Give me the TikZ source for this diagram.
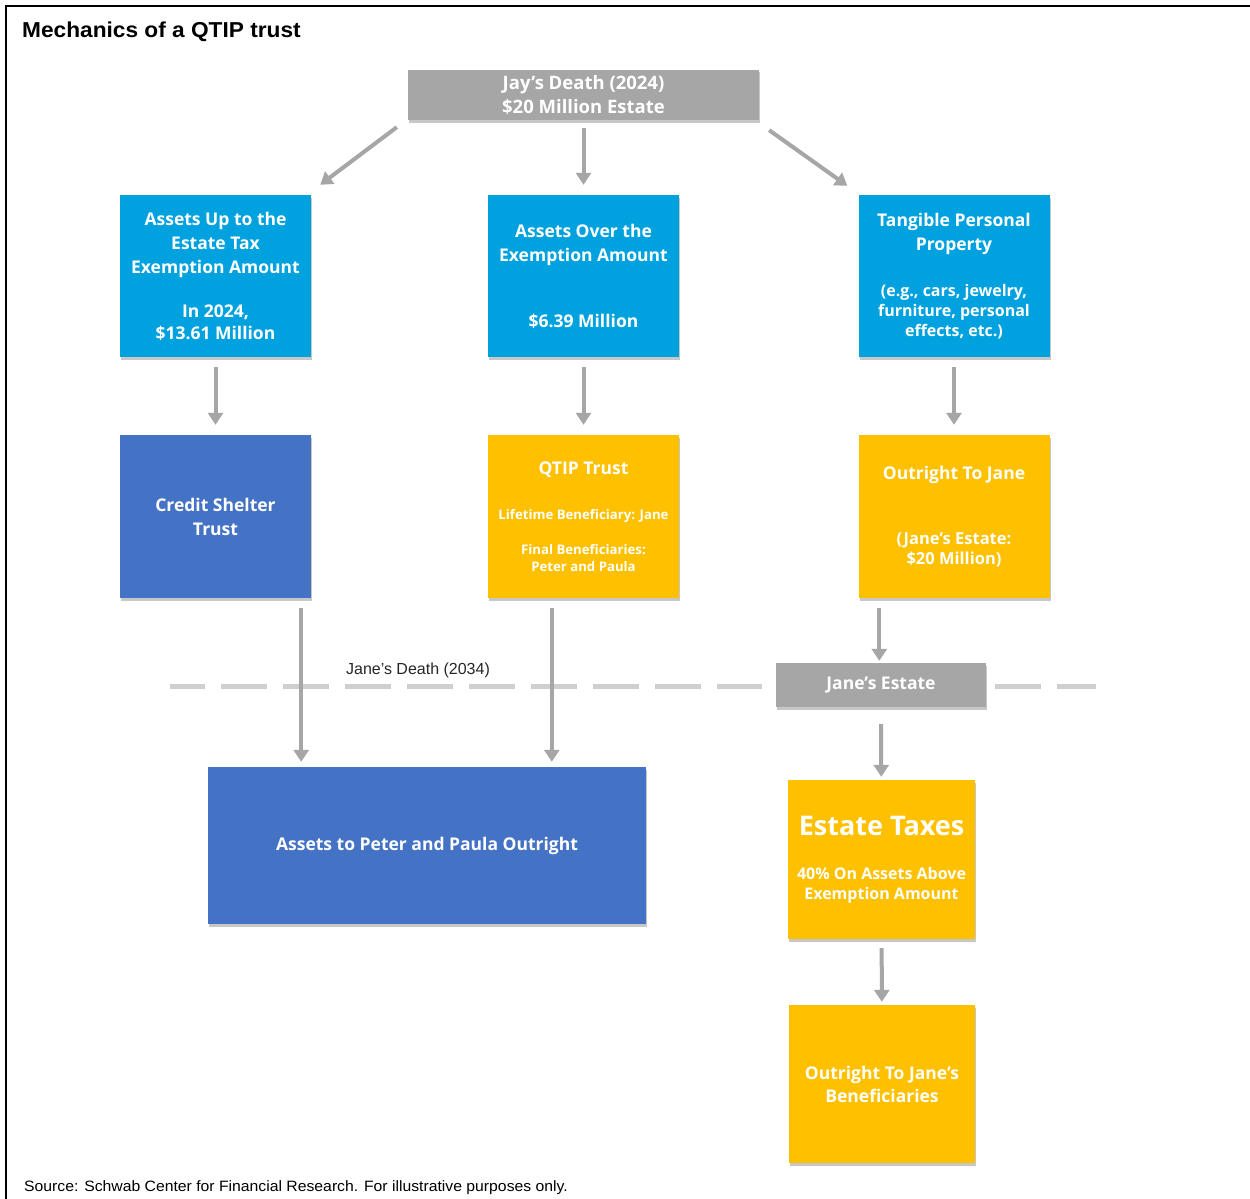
\documentclass[tikz,border=0pt]{standalone}
\usepackage{fontspec}
\setmainfont{Open Sans}
\newfontfamily\lib{Liberation Sans}
\newfontfamily\libw{Liberation Sans}[FakeStretch=1.05]
\usetikzlibrary{arrows.meta,shadows,calc}
\definecolor{greybox}{HTML}{A6A6A6}
\definecolor{arrowgrey}{HTML}{A6A6A6}
\definecolor{cyanbox}{HTML}{00A1DF}
\definecolor{bluebox}{HTML}{4472C4}
\definecolor{yellowbox}{HTML}{FFC000}
\definecolor{dashgrey}{HTML}{CFCFCF}
\tikzset{
  fs/.style n args={2}{font=\bfseries\fontsize{#1}{#2}\selectfont},
  boxbase/.style={inner sep=0pt, align=center, text=white, fs={17.5}{24},
    drop shadow={shadow xshift=1pt, shadow yshift=-2.5pt, fill=black, opacity=0.22}},
  cyanstep/.style={boxbase, fill=cyanbox, minimum width=191pt, minimum height=162pt},
  bluestep/.style={boxbase, fill=bluebox},
  yellowstep/.style={boxbase, fill=yellowbox},
  greystep/.style={boxbase, fill=greybox},
  arr/.style={draw=arrowgrey, line width=4pt, -{Triangle[width=15pt,length=12pt]}},
  dashline/.style={draw=dashgrey, line width=5pt, dash pattern=on 46pt off 16pt}
}
\newcommand{\smf}{\fontsize{16}{20}\selectfont}
\newcommand{\tinyf}{\fontsize{13.2}{17}\selectfont}
\begin{document}
\begin{tikzpicture}[x=1pt,y=-1pt]
\useasboundingbox (0,0) rectangle (1250,1199);
\fill[white] (0,0) rectangle (1250,1199);
\draw[line width=2pt] (6,1199) -- (6,6) -- (1250,6);

\node[anchor=base west, inner sep=0pt, font=\libw\bfseries\fontsize{21.6}{24}\selectfont] (title) at (22,38) {Mechanics of a QTIP trust};
\node[anchor=base west, inner sep=0pt, font=\libw\fontsize{15}{18}\selectfont] (source) at (24,1191) {Source: Schwab Center for Financial Research. For illustrative purposes only.};

% dashed line
\draw[dashline, dash phase=11pt] (170,686) -- (762,686);
\draw[dashline] (995,686) -- (1096,686);
\node[font=\lib\fontsize{16}{18}\selectfont, text=black!85] (jdeath) at (418,670) {Jane’s Death (2034)};

% top
\node[greystep, minimum width=351pt, minimum height=50pt, fs={18.5}{24}] (jay) at (583.5,95) {Jay’s Death (2024)\\\$20 Million Estate};

% row 1
\node[cyanstep] (b1) at (215.5,276) {Assets Up to the\\Estate Tax\\Exemption Amount\\[20pt]In 2024,\\[-2pt]\$13.61 Million};
\node[cyanstep] (b2) at (583.5,276) {Assets Over the\\Exemption Amount\\[42pt]\$6.39 Million};
\node[cyanstep] (b3) at (954,276) {Tangible Personal\\Property\\[22pt]\smf (e.g., cars, jewelry,\\[-4pt]\smf furniture, personal\\[-4pt]\smf effects, etc.)};

% row 2
\node[bluestep, minimum width=191pt, minimum height=163pt] (c1) at (215.5,516.5) {Credit Shelter\\Trust};
\node[yellowstep, minimum width=191pt, minimum height=163pt] (q) at (583.5,516.5) {QTIP Trust\\[21pt]\tinyf Lifetime Beneficiary: Jane\\[11pt]\tinyf Final Beneficiaries:\\[-7pt]\tinyf Peter and Paula};
\node[yellowstep, minimum width=191pt, minimum height=163pt] (o) at (954,516.5) {Outright To Jane\\[41pt]\fontsize{16.5}{20}\selectfont (Jane’s Estate:\\[-4pt]\fontsize{16.5}{20}\selectfont \$20 Million)};

% Jane's estate
\node[greystep, minimum width=210pt, minimum height=44pt] (je) at (881,685) {Jane’s Estate};

% bottom
\node[bluestep, minimum width=438pt, minimum height=157pt] (peter) at (427,845.5) {Assets to Peter and Paula Outright};
\node[yellowstep, minimum width=187pt, minimum height=159pt, fs={16}{20}] (et) at (881.5,859.5) {{\fontsize{27}{30}\selectfont Estate Taxes}\\[24pt]40\% On Assets Above\\Exemption Amount};
\node[yellowstep, minimum width=186pt, minimum height=158pt] (ob) at (882,1084) {Outright To Jane’s\\[-1pt]Beneficiaries};

% connectors
\draw[arr] ($(jay.south west)+(-11,7)$) -- ($(b1.north east)+(9,-10)$);
\draw[arr, shorten <=8pt, shorten >=10pt] (jay) -- (b2);
\draw[arr] ($(jay.south east)+(10,10)$) -- ($(b3.north west)+(-11,-9)$);

\draw[arr, shorten <=10pt, shorten >=10pt] (b1) -- (c1);
\draw[arr, shorten <=10pt, shorten >=10pt] (b2) -- (q);
\draw[arr, shorten <=10pt, shorten >=10pt] (b3) -- (o);

\coordinate (s1) at ($(c1.south east)+(-10,10)$);
\coordinate (s2) at ($(q.south west)+(64,10)$);
\coordinate (s3) at ($(o.south west)+(21,10)$);
\draw[arr, shorten >=5pt] (s1) -- (s1 |- peter.north);
\draw[arr, shorten >=5pt] (s2) -- (s2 |- peter.north);
\draw[arr, shorten >=2pt] (s3) -- (s3 |- je.north);

\draw[arr, shorten <=17pt, shorten >=3pt] (je) -- (et);
\draw[arr, shorten <=9pt, shorten >=3pt] (et) -- (ob);
\end{tikzpicture}
\end{document}
